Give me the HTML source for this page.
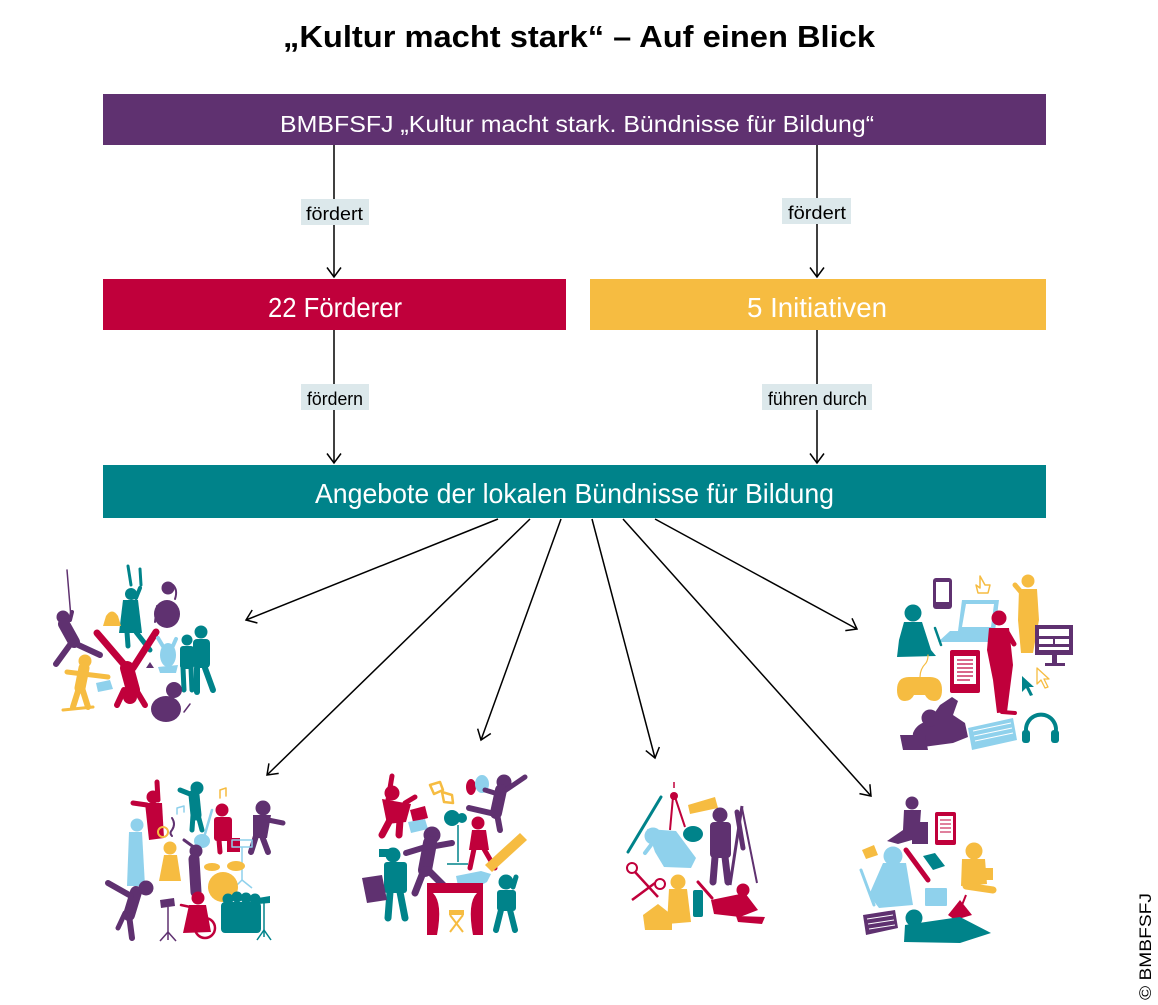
<!DOCTYPE html>
<html><head><meta charset="utf-8">
<style>
html,body{margin:0;padding:0;background:#fff;}
svg{display:block;}
text{font-family:"Liberation Sans",sans-serif;}
.p{fill:#5f3170}.r{fill:#c0003b}.y{fill:#f6bc41}.t{fill:#00838a}.b{fill:#8fd1ec}
.ps{stroke:#5f3170}.rs{stroke:#c0003b}.ys{stroke:#f6bc41}.ts{stroke:#00838a}.bs{stroke:#8fd1ec}
.l{fill:none;stroke-linecap:round;stroke-linejoin:round}
</style></head>
<body>
<svg width="1158" height="1005" viewBox="0 0 1158 1005" xmlns="http://www.w3.org/2000/svg">
<defs>
<marker id="ah" viewBox="0 0 12 16" refX="10.5" refY="8" markerWidth="12" markerHeight="16" markerUnits="userSpaceOnUse" orient="auto">
<path d="M1,1 L10.5,8 L1,15" fill="none" stroke="#000" stroke-width="1.5"/>
</marker>
</defs>
<rect width="1158" height="1005" fill="#fff"/>

<!-- title -->
<text x="283" y="47" font-size="31" font-weight="bold" textLength="592" lengthAdjust="spacingAndGlyphs" fill="#000">„Kultur macht stark“ – Auf einen Blick</text>

<!-- purple bar -->
<rect x="103" y="94" width="943" height="51" fill="#5f3170"/>
<text x="280" y="132" font-size="23" textLength="594" lengthAdjust="spacingAndGlyphs" fill="#fff">BMBFSFJ „Kultur macht stark. Bündnisse für Bildung“</text>

<!-- vertical connectors top -->
<line x1="334" y1="145" x2="334" y2="277" stroke="#000" stroke-width="1.5" marker-end="url(#ah)"/>
<line x1="817" y1="145" x2="817" y2="277" stroke="#000" stroke-width="1.5" marker-end="url(#ah)"/>
<rect x="301" y="199" width="68" height="26" fill="#dce8eb"/>
<text x="306" y="220" font-size="18" textLength="57" lengthAdjust="spacingAndGlyphs" fill="#000">fördert</text>
<rect x="782" y="198" width="69" height="26" fill="#dce8eb"/>
<text x="788" y="219" font-size="18" textLength="58" lengthAdjust="spacingAndGlyphs" fill="#000">fördert</text>

<!-- red / yellow bars -->
<rect x="103" y="279" width="463" height="51" fill="#c0003b"/>
<text x="268" y="317" font-size="28" textLength="134" lengthAdjust="spacingAndGlyphs" fill="#fff">22 Förderer</text>
<rect x="590" y="279" width="456" height="51" fill="#f6bc41"/>
<text x="747" y="317" font-size="28" textLength="140" lengthAdjust="spacingAndGlyphs" fill="#fff">5 Initiativen</text>

<!-- vertical connectors lower -->
<line x1="334" y1="330" x2="334" y2="463" stroke="#000" stroke-width="1.5" marker-end="url(#ah)"/>
<line x1="817" y1="330" x2="817" y2="463" stroke="#000" stroke-width="1.5" marker-end="url(#ah)"/>
<rect x="301" y="384" width="68" height="26" fill="#dce8eb"/>
<text x="307" y="405" font-size="18" textLength="56" lengthAdjust="spacingAndGlyphs" fill="#000">fördern</text>
<rect x="762" y="384" width="110" height="26" fill="#dce8eb"/>
<text x="768" y="405" font-size="18" textLength="99" lengthAdjust="spacingAndGlyphs" fill="#000">führen durch</text>

<!-- teal bar -->
<rect x="103" y="465" width="943" height="53" fill="#00838a"/>
<text x="315" y="503" font-size="28" textLength="519" lengthAdjust="spacingAndGlyphs" fill="#fff">Angebote der lokalen Bündnisse für Bildung</text>

<!-- radial arrows -->
<g stroke="#000" stroke-width="1.5" fill="none">
<line x1="498" y1="519" x2="246" y2="620" marker-end="url(#ah)"/>
<line x1="530" y1="519" x2="267" y2="775" marker-end="url(#ah)"/>
<line x1="561" y1="519" x2="481" y2="740" marker-end="url(#ah)"/>
<line x1="592" y1="519" x2="655" y2="758" marker-end="url(#ah)"/>
<line x1="623" y1="519" x2="871" y2="796" marker-end="url(#ah)"/>
<line x1="655" y1="519" x2="857" y2="629" marker-end="url(#ah)"/>
</g>

<!-- ===== Cluster 1: top-left (sport/circus) ===== -->
<g>
<line x1="67" y1="570" x2="71" y2="618" class="l ps" stroke-width="1.5"/>
<circle cx="63" cy="617" r="6.5" class="p"/>
<line x1="64" y1="624" x2="74" y2="642" class="l ps" stroke-width="12"/>
<line x1="70" y1="620" x2="72" y2="612" class="l ps" stroke-width="4"/>
<line x1="72" y1="642" x2="56" y2="664" class="l ps" stroke-width="6"/>
<line x1="74" y1="643" x2="100" y2="655" class="l ps" stroke-width="6"/>

<line x1="128" y1="566" x2="131" y2="585" class="l ts" stroke-width="3"/>
<line x1="140" y1="569" x2="141" y2="585" class="l ts" stroke-width="3"/>
<circle cx="131" cy="594" r="6" class="t"/>
<path d="M123,600 L138,600 L142,633 L119,633 Z" class="t"/>
<line x1="136" y1="598" x2="140" y2="588" class="l ts" stroke-width="4"/>
<line x1="127" y1="632" x2="128" y2="646" class="l ts" stroke-width="5"/>
<line x1="136" y1="632" x2="150" y2="650" class="l ts" stroke-width="5"/>

<circle cx="168" cy="588" r="6.5" class="p"/>
<path d="M173,585 q5,5 2,14" class="l ps" stroke-width="2"/>
<ellipse cx="167" cy="614" rx="13" ry="14" class="p"/>
<line x1="157" y1="606" x2="155" y2="622" class="l ps" stroke-width="2"/>

<path d="M106,616 q6,-9 12,0 l3,10 l-18,0 z" class="y"/>
<path d="M146,668 l4,-6 l4,6 z" class="p"/>

<line x1="127" y1="668" x2="133" y2="690" class="l rs" stroke-width="14"/>
<line x1="127" y1="668" x2="97" y2="633" class="l rs" stroke-width="7"/>
<line x1="133" y1="668" x2="156" y2="632" class="l rs" stroke-width="7"/>
<line x1="124" y1="690" x2="117" y2="705" class="l rs" stroke-width="6"/>
<line x1="136" y1="690" x2="145" y2="705" class="l rs" stroke-width="6"/>
<circle cx="130" cy="697" r="7" class="r"/>

<ellipse cx="168" cy="655" rx="8" ry="12" class="b"/>
<line x1="164" y1="648" x2="158" y2="638" class="l bs" stroke-width="4"/>
<line x1="172" y1="648" x2="176" y2="639" class="l bs" stroke-width="4"/>
<path d="M158,667 l20,-2 l-2,8 l-16,0z" class="b"/>

<circle cx="187" cy="640" r="5.5" class="t"/>
<rect x="180" y="646" width="14" height="23" rx="3" class="t"/>
<line x1="183" y1="668" x2="184" y2="690" class="l ts" stroke-width="5"/>
<line x1="191" y1="668" x2="192" y2="690" class="l ts" stroke-width="5"/>
<circle cx="201" cy="632" r="6.5" class="t"/>
<rect x="193" y="639" width="17" height="29" rx="4" class="t"/>
<line x1="197" y1="668" x2="197" y2="692" class="l ts" stroke-width="6"/>
<line x1="205" y1="668" x2="213" y2="690" class="l ts" stroke-width="6"/>

<circle cx="85" cy="661" r="6.5" class="y"/>
<line x1="84" y1="668" x2="80" y2="688" class="l ys" stroke-width="11"/>
<line x1="67" y1="672" x2="108" y2="677" class="l ys" stroke-width="5"/>
<line x1="79" y1="688" x2="73" y2="707" class="l ys" stroke-width="6"/>
<line x1="82" y1="688" x2="88" y2="707" class="l ys" stroke-width="6"/>
<line x1="63" y1="710" x2="93" y2="707" class="l ys" stroke-width="3"/>
<path d="M96,683 l14,-3 l3,9 l-15,3z" class="b"/>

<circle cx="174" cy="690" r="8" class="p"/>
<ellipse cx="166" cy="709" rx="15" ry="13" class="p"/>
<line x1="184" y1="712" x2="190" y2="704" class="l ps" stroke-width="1.5"/>
</g>

<!-- ===== Cluster 2: top-right (media) ===== -->
<g>
<rect x="933" y="578" width="19" height="31" rx="3" class="p"/>
<rect x="936" y="582" width="13" height="20" fill="#fff"/>
<path d="M980,576 l0,12 l-4,-3 l2,8 l10,0 l2,-8 l-5,0 z" class="l ys" stroke-width="1.5"/>

<path d="M962,600 L999,600 L995,631 L958,631 Z" class="b"/>
<path d="M966,604 L994,604 L991,627 L962,627 Z" fill="#fff"/>
<path d="M950,631 L991,631 L988,642 L938,642 Z" class="b"/>

<circle cx="1028" cy="581" r="6.5" class="y"/>
<path d="M1019,589 L1037,589 L1039,620 L1033,653 L1021,653 L1018,620 Z" class="y"/>
<line x1="1021" y1="592" x2="1015" y2="585" class="l ys" stroke-width="5"/>

<circle cx="913" cy="613" r="8.5" class="t"/>
<path d="M904,622 L922,622 L931,650 L936,656 L897,657 L899,640 Z" class="t"/>
<line x1="935" y1="628" x2="941" y2="645" class="l ts" stroke-width="2.5"/>

<circle cx="999" cy="618" r="7.5" class="r"/>
<path d="M989,628 L1009,628 L1013,665 L1007,712 L997,713 L993,680 L987,650 Z" class="r"/>
<line x1="1007" y1="632" x2="1014" y2="644" class="l rs" stroke-width="5"/>
<line x1="1002" y1="712" x2="1015" y2="713" class="l rs" stroke-width="4"/>

<rect x="1035" y="625" width="38" height="30" class="p"/>
<rect x="1039" y="629" width="30" height="7" fill="#fff"/>
<rect x="1039" y="639" width="14" height="5" fill="#fff"/>
<rect x="1055" y="639" width="14" height="5" fill="#fff"/>
<rect x="1039" y="647" width="30" height="3" fill="#fff"/>
<rect x="1052" y="655" width="5" height="9" class="p"/>
<rect x="1045" y="663" width="20" height="3" class="p"/>

<rect x="950" y="650" width="30" height="43" rx="2" class="r"/>
<rect x="954" y="656" width="22" height="28" fill="#fff"/>
<g class="rs" stroke-width="1.2"><line x1="957" y1="660" x2="973" y2="660"/><line x1="957" y1="664" x2="973" y2="664"/><line x1="957" y1="668" x2="973" y2="668"/><line x1="957" y1="672" x2="973" y2="672"/><line x1="957" y1="676" x2="973" y2="676"/><line x1="957" y1="680" x2="970" y2="680"/></g>

<path d="M897,690 q0,-13 12,-13 l21,0 q12,0 12,13 q0,11 -8,11 q-6,0 -9,-6 l-11,0 q-3,6 -9,6 q-8,0 -8,-11z" class="y"/>
<path d="M920,677 q0,-8 6,-14 q2,-3 2,-8" class="l ys" stroke-width="1.2"/>

<path d="M1022,676 l0,16 l4,-4 l4,8 l3,-1 l-4,-8 l5,0 z" class="t"/>
<path d="M1037,668 l0,16 l4,-4 l4,8 l3,-1 l-4,-8 l5,0 z" class="l ys" stroke-width="1.3"/>

<path d="M940,705 l12,-8 l6,4 l-5,14 l12,8 l3,14 l-15,6 l-30,4 q-12,-2 -10,-14 q4,-10 16,-12z" class="p"/>
<circle cx="930" cy="718" r="8.5" class="p"/>
<path d="M900,735 l25,0 l3,15 l-25,0z" class="p"/>

<path d="M968,728 L1013,718 L1017,740 L972,750 Z" class="b"/>
<g stroke="#fff" stroke-width="1"><line x1="973" y1="731" x2="1011" y2="723"/><line x1="974" y1="736" x2="1012" y2="728"/><line x1="975" y1="741" x2="1013" y2="733"/></g>

<path d="M1027,735 A15,15 0 1 1 1055,735" class="l ts" stroke-width="4"/>
<rect x="1022" y="730" width="8" height="13" rx="3" class="t"/>
<rect x="1051" y="730" width="8" height="13" rx="3" class="t"/>
</g>

<!-- ===== Cluster 3: bottom-left (music) ===== -->
<g>
<circle cx="153" cy="797" r="6.5" class="r"/>
<path d="M145,803 L162,803 L164,838 L149,840 Z" class="r"/>
<line x1="158" y1="800" x2="157" y2="782" class="l rs" stroke-width="5"/>
<line x1="147" y1="805" x2="133" y2="803" class="l rs" stroke-width="5"/>

<circle cx="197" cy="788" r="6.5" class="t"/>
<line x1="190" y1="794" x2="180" y2="790" class="l ts" stroke-width="5"/>
<line x1="194" y1="795" x2="196" y2="815" class="l ts" stroke-width="11"/>
<line x1="193" y1="815" x2="192" y2="830" class="l ts" stroke-width="5"/>
<line x1="198" y1="815" x2="202" y2="830" class="l ts" stroke-width="5"/>

<path d="M220,798 l0,-8 l6,-2 l0,8" class="l ys" stroke-width="1.5"/>
<path d="M177,814 l0,-6 l7,-2 l0,6" class="l bs" stroke-width="1.5"/>
<path d="M172,818 q4,6 0,12 q-3,3 0,6" class="l ps" stroke-width="2"/>

<circle cx="222" cy="810" r="6.5" class="r"/>
<rect x="214" y="817" width="18" height="24" rx="3" class="r"/>
<rect x="227" y="838" width="13" height="14" class="r"/>
<line x1="219" y1="840" x2="220" y2="852" class="l rs" stroke-width="5"/>

<circle cx="263" cy="808" r="7.5" class="p"/>
<path d="M253,815 L271,815 L267,838 L253,838 Z" class="p"/>
<line x1="268" y1="820" x2="283" y2="823" class="l ps" stroke-width="5"/>
<line x1="256" y1="836" x2="251" y2="852" class="l ps" stroke-width="6"/>
<line x1="262" y1="836" x2="268" y2="852" class="l ps" stroke-width="6"/>

<circle cx="137" cy="825" r="6.5" class="b"/>
<path d="M129,832 L142,832 L145,886 L127,886 Z" class="b"/>

<ellipse cx="202" cy="841" rx="8" ry="7" class="b"/>
<line x1="205" y1="834" x2="212" y2="810" class="l bs" stroke-width="2.5"/>

<circle cx="163" cy="832" r="5" class="l ys" stroke-width="2"/>
<circle cx="170" cy="848" r="6.5" class="y"/>
<path d="M164,855 L177,855 L181,881 L159,881 Z" class="y"/>

<circle cx="196" cy="851" r="6.5" class="p"/>
<line x1="184" y1="840" x2="195" y2="848" class="l ps" stroke-width="3"/>
<line x1="194" y1="859" x2="196" y2="892" class="l ps" stroke-width="11"/>

<rect x="232" y="840" width="20" height="7" class="l bs" stroke-width="1.5"/>
<line x1="242" y1="847" x2="242" y2="880" class="bs" stroke-width="1.5"/>
<line x1="242" y1="880" x2="232" y2="890" class="bs" stroke-width="1.5"/>
<line x1="242" y1="880" x2="252" y2="888" class="bs" stroke-width="1.5"/>

<circle cx="223" cy="887" r="15" class="y"/>
<ellipse cx="212" cy="867" rx="8" ry="4" class="y"/>
<ellipse cx="236" cy="866" rx="9" ry="5" class="y"/>

<circle cx="146" cy="888" r="7.5" class="p"/>
<line x1="136" y1="892" x2="129" y2="915" class="l ps" stroke-width="12"/>
<line x1="131" y1="896" x2="108" y2="883" class="l ps" stroke-width="6"/>
<line x1="129" y1="915" x2="132" y2="938" class="l ps" stroke-width="6"/>
<line x1="125" y1="913" x2="118" y2="928" class="l ps" stroke-width="5"/>

<circle cx="198" cy="898" r="6.5" class="r"/>
<path d="M189,905 L206,905 L211,932 L183,933 Z" class="r"/>
<circle cx="205" cy="928" r="10" class="l rs" stroke-width="2.5"/>
<line x1="181" y1="905" x2="195" y2="908" class="l rs" stroke-width="2.5"/>
<path d="M160,900 l14,-2 l1,8 l-14,2z" class="p"/>
<line x1="168" y1="907" x2="168" y2="940" class="ps" stroke-width="1.5"/>
<line x1="168" y1="932" x2="160" y2="941" class="ps" stroke-width="1.5"/>
<line x1="168" y1="932" x2="176" y2="941" class="ps" stroke-width="1.5"/>

<circle cx="228" cy="899" r="5.5" class="t"/>
<circle cx="237" cy="897" r="5.5" class="t"/>
<circle cx="246" cy="898" r="5.5" class="t"/>
<circle cx="255" cy="899" r="5.5" class="t"/>
<rect x="221" y="902" width="40" height="31" rx="4" class="t"/>
<path d="M258,898 l12,-2 l0,7 l-12,1z" class="t"/>
<line x1="264" y1="903" x2="264" y2="937" class="ts" stroke-width="1.5"/>
<line x1="264" y1="930" x2="257" y2="940" class="ts" stroke-width="1.5"/>
<line x1="264" y1="930" x2="271" y2="940" class="ts" stroke-width="1.5"/>
</g>

<!-- ===== Cluster 4: theater/film ===== -->
<g>
<circle cx="392" cy="793" r="7.5" class="r"/>
<path d="M382,799 L411,804 L406,822 L387,824 Z" class="r"/>
<line x1="388" y1="800" x2="392" y2="776" class="l rs" stroke-width="5"/>
<line x1="405" y1="803" x2="415" y2="797" class="l rs" stroke-width="5"/>
<line x1="390" y1="820" x2="382" y2="835" class="l rs" stroke-width="7"/>
<line x1="400" y1="820" x2="399" y2="835" class="l rs" stroke-width="7"/>

<path d="M430,785 l10,-3 l3,8 l-9,4z M442,792 l10,3 l1,8 l-9,-1z" class="l ys" stroke-width="2.5"/>
<ellipse cx="471" cy="787" rx="5" ry="8" class="r"/>
<ellipse cx="482" cy="784" rx="7" ry="9" class="b"/>

<circle cx="504" cy="782" r="7.5" class="p"/>
<line x1="501" y1="790" x2="496" y2="813" class="l ps" stroke-width="12"/>
<line x1="503" y1="792" x2="525" y2="777" class="l ps" stroke-width="5"/>
<line x1="498" y1="794" x2="485" y2="790" class="l ps" stroke-width="5"/>
<line x1="495" y1="814" x2="469" y2="808" class="l ps" stroke-width="6"/>
<line x1="497" y1="814" x2="500" y2="830" class="l ps" stroke-width="6"/>

<path d="M410,810 l15,-4 l3,12 l-15,4z" class="r"/>
<path d="M408,822 l17,-3 l3,10 l-17,4z" class="b"/>

<circle cx="452" cy="818" r="8" class="t"/>
<circle cx="462" cy="818" r="5" class="t"/>
<line x1="458" y1="825" x2="458" y2="862" class="ts" stroke-width="1.5"/>
<line x1="447" y1="864" x2="468" y2="864" class="ts" stroke-width="1.5"/>

<circle cx="478" cy="823" r="6.5" class="r"/>
<path d="M472,830 L486,830 L489,850 L469,850 Z" class="r"/>
<line x1="474" y1="849" x2="470" y2="868" class="l rs" stroke-width="5"/>
<line x1="484" y1="849" x2="495" y2="868" class="l rs" stroke-width="5"/>

<path d="M485,865 L520,833 L527,840 L492,872 Z" class="y"/>

<circle cx="393" cy="855" r="7.5" class="t"/>
<rect x="379" y="849" width="12" height="8" class="t"/>
<rect x="384" y="862" width="23" height="31" rx="3" class="t"/>
<line x1="390" y1="892" x2="388" y2="918" class="l ts" stroke-width="7"/>
<line x1="400" y1="892" x2="405" y2="918" class="l ts" stroke-width="7"/>

<path d="M362,878 L382,875 L387,900 L367,903 Z" class="p"/>

<circle cx="432" cy="835" r="8.5" class="p"/>
<line x1="430" y1="843" x2="425" y2="870" class="l ps" stroke-width="14"/>
<line x1="429" y1="846" x2="406" y2="853" class="l ps" stroke-width="6"/>
<line x1="435" y1="846" x2="452" y2="843" class="l ps" stroke-width="6"/>
<line x1="424" y1="870" x2="415" y2="893" class="l ps" stroke-width="7"/>
<line x1="428" y1="870" x2="448" y2="890" class="l ps" stroke-width="7"/>

<path d="M456,876 l25,-5 l10,3 l-4,8 l-15,8 l-14,-4z" class="b"/>

<rect x="427" y="883" width="56" height="52" class="r"/>
<path d="M433,893 L477,893 L477,935 L433,935 Z" fill="#fff"/>
<path d="M433,893 q10,10 4,42 l-4,0z M477,893 q-10,10 -4,42 l4,0z" class="r"/>
<rect x="449" y="910" width="15" height="5" class="y"/>
<line x1="450" y1="915" x2="463" y2="932" class="ys" stroke-width="2"/>
<line x1="463" y1="915" x2="450" y2="932" class="ys" stroke-width="2"/>

<circle cx="506" cy="882" r="7.5" class="t"/>
<rect x="497" y="890" width="19" height="21" rx="3" class="t"/>
<line x1="513" y1="887" x2="516" y2="877" class="l ts" stroke-width="5"/>
<line x1="501" y1="910" x2="496" y2="930" class="l ts" stroke-width="6"/>
<line x1="510" y1="910" x2="515" y2="930" class="l ts" stroke-width="6"/>
</g>

<!-- ===== Cluster 5: art ===== -->
<g>
<line x1="628" y1="852" x2="661" y2="797" class="l ts" stroke-width="3"/>
<circle cx="674" cy="796" r="4" class="r"/>
<line x1="674" y1="788" x2="674" y2="782" class="rs" stroke-width="1.5"/>
<line x1="673" y1="797" x2="670" y2="830" class="rs" stroke-width="2"/>
<line x1="675" y1="797" x2="685" y2="827" class="rs" stroke-width="2"/>
<path d="M688,805 L715,797 L718,808 L690,814 Z" class="y"/>
<ellipse cx="693" cy="834" rx="10" ry="8" class="t"/>

<circle cx="653" cy="836" r="8.5" class="b"/>
<path d="M647,829 L676,831 L696,858 L691,868 L664,867 L655,852 Z" class="b"/>
<line x1="651" y1="845" x2="645" y2="853" class="l bs" stroke-width="4"/>

<circle cx="720" cy="815" r="7.5" class="p"/>
<rect x="710" y="822" width="21" height="36" rx="4" class="p"/>
<line x1="715" y1="857" x2="713" y2="882" class="l ps" stroke-width="7"/>
<line x1="725" y1="857" x2="728" y2="882" class="l ps" stroke-width="7"/>
<line x1="742" y1="806" x2="730" y2="885" class="ps" stroke-width="3"/>
<line x1="742" y1="808" x2="757" y2="883" class="ps" stroke-width="2"/>
<line x1="737" y1="812" x2="743" y2="848" class="l ps" stroke-width="5"/>

<circle cx="632" cy="868" r="5" class="l rs" stroke-width="2"/>
<circle cx="660" cy="884" r="5" class="l rs" stroke-width="2"/>
<line x1="635" y1="872" x2="658" y2="897" class="rs" stroke-width="2.5"/>
<line x1="655" y1="883" x2="632" y2="900" class="rs" stroke-width="2.5"/>

<circle cx="678" cy="882" r="7.5" class="y"/>
<path d="M669,889 L687,889 L691,922 L667,924 Z" class="y"/>
<path d="M643,915 L658,904 L672,915 L672,930 L645,930 Z" class="y"/>

<rect x="693" y="890" width="10" height="27" rx="2" class="t"/>
<line x1="698" y1="882" x2="712" y2="898" class="l rs" stroke-width="3"/>

<circle cx="743" cy="890" r="6.5" class="r"/>
<path d="M711,900 L745,893 L758,910 L740,917 L714,914 Z" class="r"/>
<path d="M736,916 L765,917 L762,924 L738,922 Z" class="r"/>
</g>

<!-- ===== Cluster 6: reading ===== -->
<g>
<circle cx="912" cy="803" r="6.5" class="p"/>
<path d="M904,810 L921,810 L919,838 L898,844 L887,841 L903,830 Z" class="p"/>
<rect x="912" y="822" width="16" height="22" class="p"/>

<rect x="935" y="812" width="21" height="33" rx="2" class="r"/>
<rect x="938" y="816" width="15" height="24" fill="#fff"/>
<g class="rs" stroke-width="1"><line x1="940" y1="820" x2="951" y2="820"/><line x1="940" y1="824" x2="951" y2="824"/><line x1="940" y1="828" x2="951" y2="828"/><line x1="940" y1="832" x2="951" y2="832"/></g>

<path d="M862,850 l12,-5 l4,10 l-12,4z" class="y"/>

<circle cx="893" cy="856" r="9.5" class="b"/>
<path d="M883,863 L906,863 L913,905 L879,908 L869,895 Z" class="b"/>
<line x1="861" y1="870" x2="874" y2="905" class="l bs" stroke-width="3"/>

<line x1="906" y1="850" x2="928" y2="880" class="l rs" stroke-width="5"/>
<path d="M923,856 L935,853 L945,866 L933,870 Z" class="t"/>

<circle cx="974" cy="851" r="8.5" class="y"/>
<path d="M962,859 L985,859 L987,884 L961,886 Z" class="y"/>
<rect x="983" y="868" width="10" height="12" class="y"/>
<line x1="966" y1="886" x2="993" y2="890" class="l ys" stroke-width="7"/>

<rect x="925" y="888" width="22" height="18" rx="1" class="b"/>
<path d="M948,915 L960,900 L972,915 L955,920 Z" class="r"/>
<line x1="966" y1="895" x2="960" y2="910" class="rs" stroke-width="2"/>

<path d="M863,915 L895,910 L898,928 L866,935 Z" class="p"/>
<g stroke="#fff" stroke-width="1"><line x1="867" y1="919" x2="893" y2="915"/><line x1="868" y1="924" x2="894" y2="920"/><line x1="869" y1="929" x2="895" y2="925"/></g>

<circle cx="914" cy="918" r="8.5" class="t"/>
<path d="M905,925 L960,917 L991,933 L960,943 L904,942 Z" class="t"/>
</g>

<!-- copyright -->
<text transform="translate(1151,1000) rotate(-90)" font-size="17" textLength="107" lengthAdjust="spacingAndGlyphs" fill="#000">© BMBFSFJ</text>
</svg>
</body></html>
